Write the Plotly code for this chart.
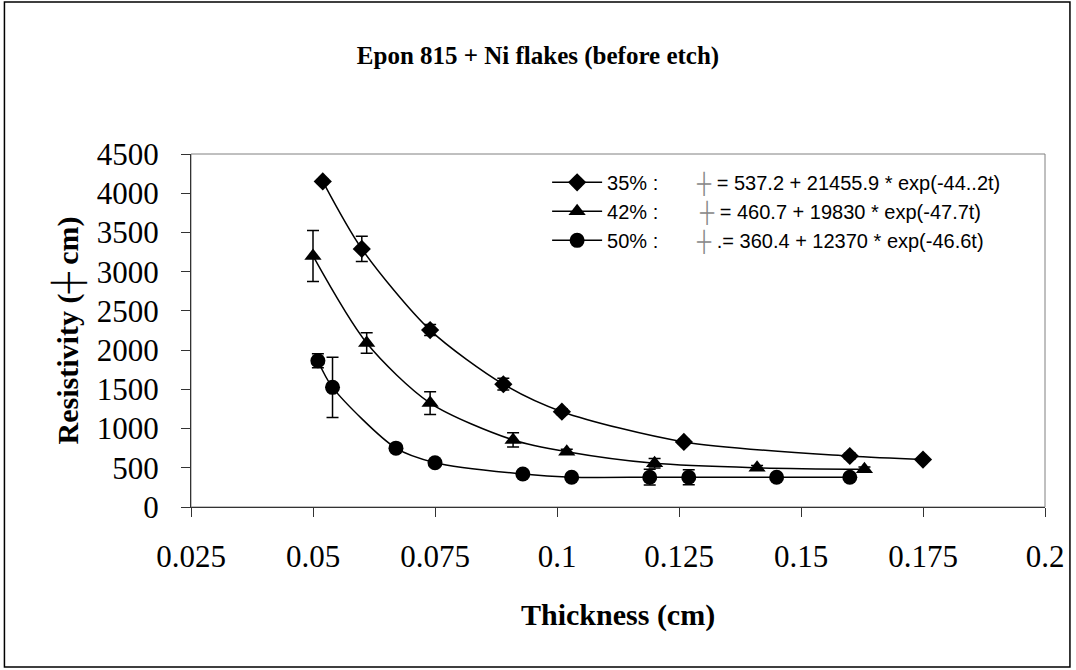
import plotly.graph_objects as go

# ---- data ----
x35 = [0.052, 0.060, 0.074, 0.089, 0.101, 0.126, 0.160, 0.175]
y35 = [4150, 3290, 2255, 1565, 1215, 830, 650, 605]
e35 = [25, 160, 70, 75, 35, 30, 35, 20]

x42 = [0.050, 0.061, 0.074, 0.091, 0.102, 0.120, 0.141, 0.163]
y42 = [3200, 2090, 1325, 855, 705, 557, 500, 480]
e42 = [325, 130, 145, 90, 30, 60, 30, 30]

x50 = [0.051, 0.054, 0.067, 0.075, 0.093, 0.103, 0.119, 0.127, 0.145, 0.160]
y50 = [1865, 1525, 750, 565, 420, 380, 380, 380, 380, 380]
e50 = [90, 385, 20, 20, 20, 20, 100, 95, 20, 20]

series_names = ["35% :", "42% :", "50% :"]
equations = [
    "= 537.2 + 21455.9 * exp(-44..2t)",
    "= 460.7 + 19830 * exp(-47.7t)",
    ".= 360.4 + 12370 * exp(-46.6t)",
]
xtick_vals = [0.025, 0.05, 0.075, 0.1, 0.125, 0.15, 0.175, 0.2]
xtick_text = ["0.025", "0.05", "0.075", "0.1", "0.125", "0.15", "0.175", "0.2"]
ytick_vals = [0, 500, 1000, 1500, 2000, 2500, 3000, 3500, 4000, 4500]

title = "Epon 815 + Ni flakes (before etch)"
xtitle = "Thickness (cm)"
ytitle = "Resistivity (┼ cm)"

SERIF = "Liberation Serif, Times New Roman, serif"
SANS = "Liberation Sans, Arial, sans-serif"

fig = go.Figure()
specs = [
    (x35, y35, e35, "diamond", 14),
    (x42, y42, e42, "triangle-up", 15),
    (x50, y50, e50, "circle", 15),
]
for (xs, ys, es, sym, sz), name in zip(specs, series_names):
    fig.add_trace(go.Scatter(
        x=xs, y=ys, name=name, mode="lines+markers",
        line=dict(color="black", width=1.5, shape="spline", smoothing=0.8),
        marker=dict(symbol=sym, size=sz, color="black"),
        error_y=dict(type="data", array=es, visible=True, color="black",
                     thickness=1.5, width=6),
    ))

# equations next to legend rows
for i, eq in enumerate(equations):
    fig.add_annotation(
        xref="paper", yref="paper", x=0.589 + (0.004 if i == 1 else 0), y=0.915 - i * 0.082,
        xanchor="left", yanchor="middle", showarrow=False,
        text='<span style="color:#888">┼</span> ' + eq,
        font=dict(family=SANS, size=20, color="black"),
    )

# axis titles
fig.add_annotation(xref="paper", yref="paper", x=0.5, y=-0.306,
                   text="<b>" + xtitle + "</b>", showarrow=False,
                   xanchor="center", yanchor="middle",
                   font=dict(family=SERIF, size=30, color="black"))
fig.add_annotation(xref="paper", yref="paper", x=-0.143, y=0.5,
                   text="<b>" + ytitle + "</b>", showarrow=False, textangle=-90,
                   xanchor="center", yanchor="middle",
                   font=dict(family=SERIF, size=30, color="black"))

# plot-area border (grey) and outer chart border (black)
fig.add_shape(type="rect", xref="paper", yref="paper", x0=0, x1=1, y0=0, y1=1,
              line=dict(color="#808080", width=1), layer="below")
fig.add_shape(type="rect", xref="paper", yref="paper",
              x0=(4 - 191) / 856, x1=(1072 - 191) / 856,
              y0=(507 - 667) / 353, y1=(507 - 2) / 353,
              line=dict(color="black", width=1.5), layer="below")

fig.update_layout(
    width=1076, height=670,
    margin=dict(l=191, r=29, t=154, b=163),
    paper_bgcolor="white", plot_bgcolor="white",
    title=dict(text="<b>" + title + "</b>", x=0.5, xref="container",
               xanchor="center", y=1 - 55 / 670, yref="container", yanchor="middle",
               font=dict(family=SERIF, size=25, color="black")),
    showlegend=True,
    legend=dict(x=0.417, y=0.975, xanchor="left", yanchor="top",
                bgcolor="rgba(0,0,0,0)", borderwidth=0,
                font=dict(family=SANS, size=20, color="black"),
                itemwidth=50),
    xaxis=dict(range=[0.025, 0.2], tickvals=xtick_vals, ticktext=xtick_text,
               showgrid=False, zeroline=False, showline=True, linecolor="#333",
               linewidth=1.2, ticks="outside", ticklen=9, tickcolor="#333",
               ticklabelstandoff=13,
               tickfont=dict(family=SERIF, size=31, color="black")),
    yaxis=dict(range=[0, 4500], tickvals=ytick_vals,
               showgrid=False, zeroline=False, showline=True, linecolor="#333",
               linewidth=1.2, ticks="outside", ticklen=9, tickcolor="#333",
               ticklabelstandoff=16,
               tickfont=dict(family=SERIF, size=31, color="black")),
)

fig.write_html("out.html", config={"displayModeBar": False},
               post_script="document.body.style.margin='0';")
